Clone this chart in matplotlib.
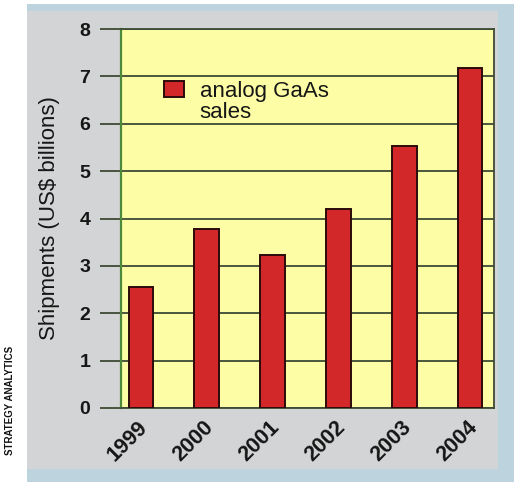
import matplotlib
matplotlib.use("Agg")
import matplotlib.pyplot as plt
import matplotlib.transforms as mtransforms
from matplotlib.patches import Rectangle
from matplotlib.container import BarContainer
from matplotlib.legend_handler import HandlerPatch

# Analog GaAs sales, US$ billions
years = ["1999", "2000", "2001", "2002", "2003", "2004"]
sales = [2.55, 3.77, 3.23, 4.2, 5.53, 7.18]
y_ticks = [0, 1, 2, 3, 4, 5, 6, 7, 8]
series_label = "analog GaAs\nsales"
y_title = "Shipments (US$ billions)"
credit = "STRATEGY ANALYTICS"

plt.rcParams["font.family"] = ["Liberation Sans", "DejaVu Sans"]

W, H = 514, 482
fig = plt.figure(figsize=(W / 100, H / 100), dpi=100, facecolor="white")

# framed panel behind the chart
def px_rect(x0, y0, x1, y1, color):
    fig.patches.append(Rectangle((x0 / W, 1 - y1 / H), (x1 - x0) / W, (y1 - y0) / H,
                                 transform=fig.transFigure, facecolor=color,
                                 edgecolor="none", zorder=-10))

px_rect(27, 4, 514, 482, "#bdd3de")
px_rect(27, 11, 498, 469, "#d3d4d5")

ax = fig.add_axes([121 / W, 1 - 408 / H, (494 - 121) / W, (408 - 29) / H])
ax.set_zorder(1)
ax.set_facecolor("#fdfda6")

grid_col = "#3d4a34"
text_col = "#161616"
x = list(range(len(years)))
bars = ax.bar(x, sales, width=0.37, color="#d2282a", edgecolor="#2b0b0b",
              linewidth=1.4, label=series_label, zorder=3)

ax.set_xlim(-0.30, 5.36)
ax.set_ylim(0, 8)
ax.set_yticks(y_ticks)
ax.set_yticklabels([str(t) for t in y_ticks], fontsize=14, fontweight="bold",
                   color=text_col)
ax.yaxis.grid(True, color=grid_col, linewidth=1.3, zorder=1)
ax.set_axisbelow(True)
ax.tick_params(axis="y", length=15, width=1.3, color=grid_col, pad=7)

ax.set_xticks(x)
ax.set_xticklabels(years, rotation=45, ha="right", va="top", fontsize=15.5,
                   fontweight="bold", color=text_col)
ax.tick_params(axis="x", length=0, pad=6.5)
shift = mtransforms.ScaledTranslation(11 / 100, 0, fig.dpi_scale_trans)
for lab in ax.get_xticklabels():
    lab.set_transform(lab.get_transform() + shift)

for side in ("top", "right", "bottom"):
    ax.spines[side].set_color(grid_col)
    ax.spines[side].set_linewidth(1.3)
ax.spines["left"].set_color("#4a8a3a")
ax.spines["left"].set_linewidth(1.6)

ax.set_ylabel(y_title, fontsize=16, color=text_col)
ax.yaxis.set_label_coords((60 - 121) / (494 - 121), 0.5)


# legend swatch sits beside the first line of the two-line label
def top_swatch(legend, orig_handle, xdescent, ydescent, width, height, fontsize):
    return Rectangle((-xdescent, -ydescent + 0.6 * fontsize), width, height)


def first_child_style(legend_handle, orig_handle):
    legend_handle.update_from(orig_handle.patches[0])


leg = ax.legend(loc="upper left", bbox_to_anchor=((164 - 121) / 373, 1 - (81 - 29) / 379),
                frameon=False, fontsize=16, handlelength=0.9, handleheight=0.68,
                handletextpad=0.7, borderpad=0, borderaxespad=0, labelspacing=0,
                handler_map={BarContainer: HandlerPatch(patch_func=top_swatch,
                                                        update_func=first_child_style)})
for t in leg.get_texts():
    t.set_linespacing(1.0)
    t.set_color(text_col)

fig.text(10 / W, 1 - 400 / H, credit, rotation=90, fontsize=7, fontweight="bold",
         ha="center", va="center", color="#111111")

fig.savefig("out.png", dpi=100, facecolor="white")
